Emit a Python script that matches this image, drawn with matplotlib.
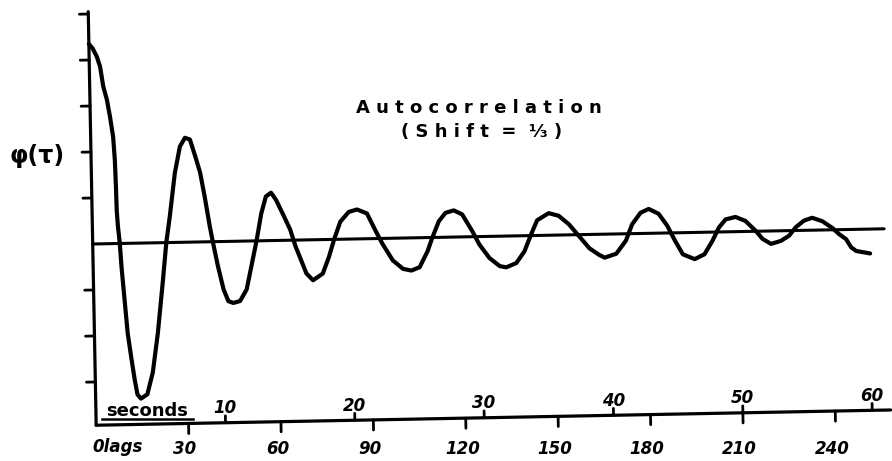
import matplotlib
matplotlib.use("Agg")
import matplotlib.pyplot as plt
import matplotlib.transforms as mtransforms


# ========================================================================
#                           Data
# ========================================================================
lags = [0, 1.2, 2.5, 3.5, 4.4, 5.5, 6.4, 7.3, 7.7, 7.9, 8.0, 8.3, 8.8, 9.2,
        10.0, 10.8, 11.9, 12.8, 13.6, 14.7, 16.8, 18.7, 20.6, 22.5, 23.9,
        25.2, 27.1, 28.9, 30.6, 32.2, 33.8, 35.3, 36.6, 38.1, 39.0, 40.5,
        42.2, 43.7, 45.3, 47.5, 49.7, 51.4, 53.2, 54.9, 56.5, 58.2, 59.8,
        62.0, 64.2, 65.8, 67.5, 69.2, 71.3, 74.5, 76.6, 78.4, 80.5, 83.3,
        86.0, 89.2, 91.9, 94.0, 97.3, 100.6, 103.3, 106.0, 108.7, 110.3,
        112.5, 114.7, 117.4, 120.1, 123.3, 125.5, 128.7, 132.0, 134.1,
        137.4, 140.1, 142.2, 144.4, 148.2, 151.4, 154.7, 157.9, 161.2,
        164.4, 166.1, 169.9, 173.1, 175.2, 178.0, 180.7, 183.9, 186.6,
        188.8, 191.5, 195.3, 198.5, 201.2, 203.4, 205.6, 208.8, 212.0,
        215.3, 217.5, 220.2, 223.4, 226.1, 228.3, 231.0, 233.7, 237.0,
        240.2, 242.4, 244.6, 246.2, 247.8, 252.3]
phi = [4.35, 4.25, 4.07, 3.85, 3.42, 3.13, 2.76, 2.32, 1.82, 1.24, 0.73, 0.37,
       0.0, -0.5, -1.23, -1.95, -2.53, -2.97, -3.29, -3.38, -3.29, -2.82,
       -1.96, -0.86, 0.0, 0.57, 1.51, 2.08, 2.27, 2.23, 1.87, 1.51, 1.0,
       0.34, 0.0, -0.53, -1.04, -1.30, -1.34, -1.30, -1.05, -0.54, 0.0,
       0.59, 0.96, 1.04, 0.88, 0.56, 0.23, -0.13, -0.43, -0.73, -0.88,
       -0.74, -0.38, 0.0, 0.38, 0.59, 0.64, 0.55, 0.17, -0.11, -0.48,
       -0.67, -0.71, -0.64, -0.29, 0.0, 0.35, 0.53, 0.58, 0.49, 0.12,
       -0.17, -0.47, -0.65, -0.68, -0.59, -0.34, 0.0, 0.33, 0.48, 0.42,
       0.23, -0.03, -0.30, -0.45, -0.51, -0.43, -0.15, 0.20, 0.45, 0.53,
       0.42, 0.16, -0.14, -0.47, -0.58, -0.48, -0.19, 0.10, 0.27, 0.32,
       0.23, 0.01, -0.17, -0.28, -0.22, -0.11, 0.07, 0.21, 0.27, 0.19,
       0.04, -0.10, -0.21, -0.39, -0.47, -0.53]

lag_ticks = [30, 60, 90, 120, 150, 180, 210, 240]
sec_ticks = [10, 20, 30, 40, 50, 60]
lags_per_second = 4.2
y_ticks = [-3, -2, -1, 1, 2, 3, 4, 5]

x_end = 258       # x axis runs to here (lags)
zero_end = 257    # the zero line
y_bottom = -3.94  # where the x axis sits
y_top = 5.05

title = "A u t o c o r r e l a t i o n"
subtitle = "( S h i f t  =  \u2153 )"


# ========================================================================
#                           Figure
# ========================================================================
fig = plt.figure(figsize=(8.92, 4.61), dpi=100)
ax = fig.add_axes([0, 0, 1, 1])
ax.set_xlim(-30.10, 259.51)
ax.set_ylim(-4.717, 5.304)
ax.axis("off")

# the scanned drawing is turned about 1 degree, so draw everything turned
x0, y0 = ax.transData.transform((0, 0))
tilt = ax.transData + mtransforms.Affine2D().rotate_deg_around(x0, y0, 1.1)

line_kw = dict(color="black", solid_capstyle="round", solid_joinstyle="round",
               transform=tilt)

# curve and zero line
ax.plot(lags, phi, lw=3.0, **line_kw)
ax.plot([0, zero_end], [0, 0], lw=2.2, **line_kw)

# axes
ax.plot([0, 0], [y_bottom, y_top], lw=2.3, **line_kw)
ax.plot([0, x_end], [y_bottom, y_bottom], lw=2.3, **line_kw)

# y ticks (to the left)
for t in y_ticks:
    ax.plot([-2.9, 0], [t, t], lw=2.0, **line_kw)

# lag ticks (down) and labels
for t in lag_ticks:
    ax.plot([t, t], [y_bottom, y_bottom - 0.22], lw=2.0, **line_kw)
    ax.text(t, -4.45, str(t), ha="center", va="center", fontsize=12,
            fontweight="bold", fontstyle="italic")
ax.text(0, -4.42, "0lags", ha="left", va="center", fontsize=12,
        fontweight="bold", fontstyle="italic")

# seconds ticks (up) and labels
for s in sec_ticks:
    xs = s * lags_per_second
    ax.plot([xs, xs], [y_bottom, y_bottom + 0.15], lw=2.0, **line_kw)
    ax.text(xs, y_bottom + 0.32, str(s), ha="center", va="center",
            fontsize=12, fontweight="bold", fontstyle="italic", transform=tilt)

ax.text(17.6, -3.63, "seconds", ha="center", va="center", fontsize=13,
        fontweight="bold")
ax.plot([3.0, 32.6], [-3.80, -3.80], color="black", lw=1.8)

# labels
ax.text(-18.1, 1.91, "\u03c6(\u03c4)", ha="center", va="center", fontsize=17,
        fontweight="bold")
ax.text(125.4, 2.96, title, ha="center", va="center", fontsize=13,
        fontweight="bold")
ax.text(126.1, 2.43, subtitle, ha="center", va="center", fontsize=13,
        fontweight="bold")

plt.savefig("out.png", dpi=100)
